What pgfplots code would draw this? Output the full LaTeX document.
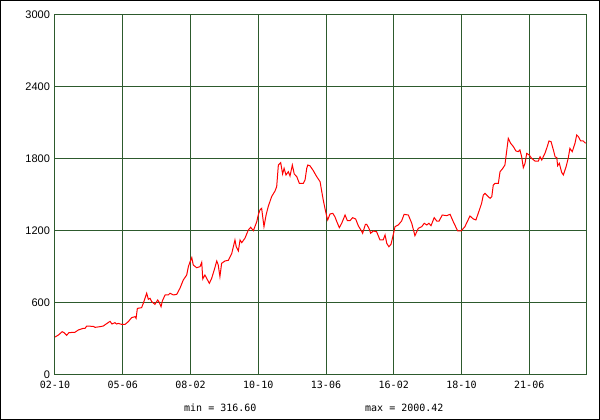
\documentclass[border=0pt]{standalone}
\usepackage{fontspec}
\setmainfont{Liberation Sans}
\newfontfamily\monofont{DejaVu Sans Mono}
\usepackage{pgfplots}
\pgfplotsset{compat=1.18}
\definecolor{gridgreen}{RGB}{45,90,45}

% x = months since Oct 2002
\begin{document}
\begin{tikzpicture}
\begin{axis}[
  at={(0,0)}, anchor=south west,
  scale only axis, width=531pt, height=360pt,
  xmin=0, xmax=250.8, ymin=0, ymax=3000,
  axis line style={gridgreen, line width=1pt},
  grid=major, major grid style={gridgreen, line width=1pt},
  major tick length=0pt,
  xtick={0,32,64,96,128,160,192,224},
  xticklabels={02-10,05-06,08-02,10-10,13-06,16-02,18-10,21-06},
  ytick={0,600,...,3000},
  xticklabel style={font=\monofont\fontsize{10}{12}\selectfont, yshift=-3pt},
  yticklabel style={font=\fontsize{11}{12}\selectfont, xshift=-1.5pt},
  /pgf/number format/assume math mode=true,
  /pgf/number format/1000 sep={},
]
\addplot[red, line width=1pt] coordinates {
(0,316.6) (1.6,333) (3.4,361) (4.3,353) (5.5,331) (6.6,353) (9.4,356) (11.0,375)
(13.4,389) (14.2,389) (15.0,408) (18.1,405) (18.9,397) (21.3,403) (22.8,408)
(24.4,428) (26.0,447) (26.9,425) (28.3,436) (29.1,425) (29.9,430) (31.5,422)
(33.1,422) (34.6,444) (36.2,478) (37.8,486) (38.3,472) (38.9,555) (40.9,561)
(41.7,597) (42.5,639) (43.3,681) (44.1,631) (44.9,639) (45.7,611) (47.2,589)
(48.5,625) (49.2,606) (50.1,569) (50.7,617) (52.0,667) (53.5,667) (54.3,681)
(55.9,667) (57.5,672) (59.0,722) (60.6,792) (62.2,833) (63.0,903) (63.8,944)
(64.6,978) (65.3,917) (66.9,894) (68.5,903) (69.3,939) (69.8,800) (70.8,833)
(72.9,764) (74.0,806) (75.2,875) (76.4,950) (77.1,917) (77.9,819) (78.7,931)
(80.3,950) (81.9,956) (83.5,1014) (85.0,1125) (85.6,1069) (86.6,1033) (87.4,1125)
(88.2,1103) (89.7,1139) (91.3,1208) (92.4,1231) (93.7,1203) (95.3,1278) (96.0,1333)
(96.8,1375) (97.6,1389) (98.7,1236) (99.7,1333) (100.7,1403) (102.3,1486)
(103.9,1533) (104.7,1569) (105.5,1750) (106.6,1769) (107.5,1675) (108.2,1722)
(109.1,1667) (110.2,1694) (111.0,1658) (112.1,1750) (113.0,1675) (114.2,1653)
(115.4,1597) (117.3,1597) (118.1,1625) (118.9,1722) (119.4,1750) (120.4,1744)
(122.0,1703) (123.6,1653) (125.2,1611) (126.0,1528) (126.7,1458) (127.5,1389)
(128.3,1325) (128.8,1292) (129.9,1342) (131.2,1347) (132.2,1319) (133.3,1269)
(134.3,1228) (135.4,1264) (137.0,1333) (138.1,1286) (139.3,1286) (140.6,1311)
(142.0,1300) (143.3,1242) (144.5,1208) (145.3,1181) (146.6,1255) (147.2,1256)
(148.3,1222) (149.1,1181) (150.3,1200) (151.9,1194) (153.5,1125) (155.0,1125)
(155.9,1167) (156.7,1097) (157.7,1069) (158.7,1089) (159.8,1172) (160.6,1236)
(162.1,1250) (163.7,1283) (164.9,1339) (166.9,1333) (168.5,1264) (170.0,1161)
(171.6,1222) (173.2,1236) (174.4,1264) (175.6,1250) (176.6,1264) (177.6,1244)
(179.1,1311) (180.3,1283) (181.4,1283) (182.9,1333) (185.0,1328) (186.6,1339)
(188.1,1278) (190.2,1200) (191.8,1200) (193.6,1236) (196.0,1325) (197.6,1300)
(198.8,1292) (199.9,1347) (201.5,1431) (202.3,1500) (203.1,1514) (204.2,1494)
(205.5,1472) (206.3,1486) (207.0,1583) (207.8,1597) (209.4,1597) (210.2,1694)
(211.5,1722) (212.5,1750) (213.3,1861) (214.1,1972) (215.2,1931) (216.5,1903)
(217.7,1867) (218.8,1861) (219.6,1875) (220.4,1819) (221.2,1728) (222.0,1764)
(222.8,1847) (224.0,1833) (225.1,1806) (226.7,1783) (228.3,1783) (229.1,1819)
(229.9,1792) (231.4,1847) (232.5,1903) (233.3,1950) (234.3,1944) (235.4,1875)
(236.2,1819) (237.0,1811) (237.4,1744) (238.2,1764) (239.3,1689) (240.1,1667)
(241.4,1736) (242.4,1806) (243.2,1889) (244.3,1861) (245.6,1931) (246.4,2000.42)
(247.2,1986) (248.3,1950) (249.5,1950) (250.6,1931)
};
\end{axis}
\draw[black, line width=1pt] (-54.5pt,-44.5pt) rectangle (544.5pt,374.5pt);
\node[anchor=west, inner sep=0pt, font=\monofont\fontsize{10}{12}\selectfont] at (129pt,-33pt) {min = 316.60};
\node[anchor=west, inner sep=0pt, font=\monofont\fontsize{10}{12}\selectfont] at (310pt,-33pt) {max = 2000.42};
\end{tikzpicture}
\end{document}
